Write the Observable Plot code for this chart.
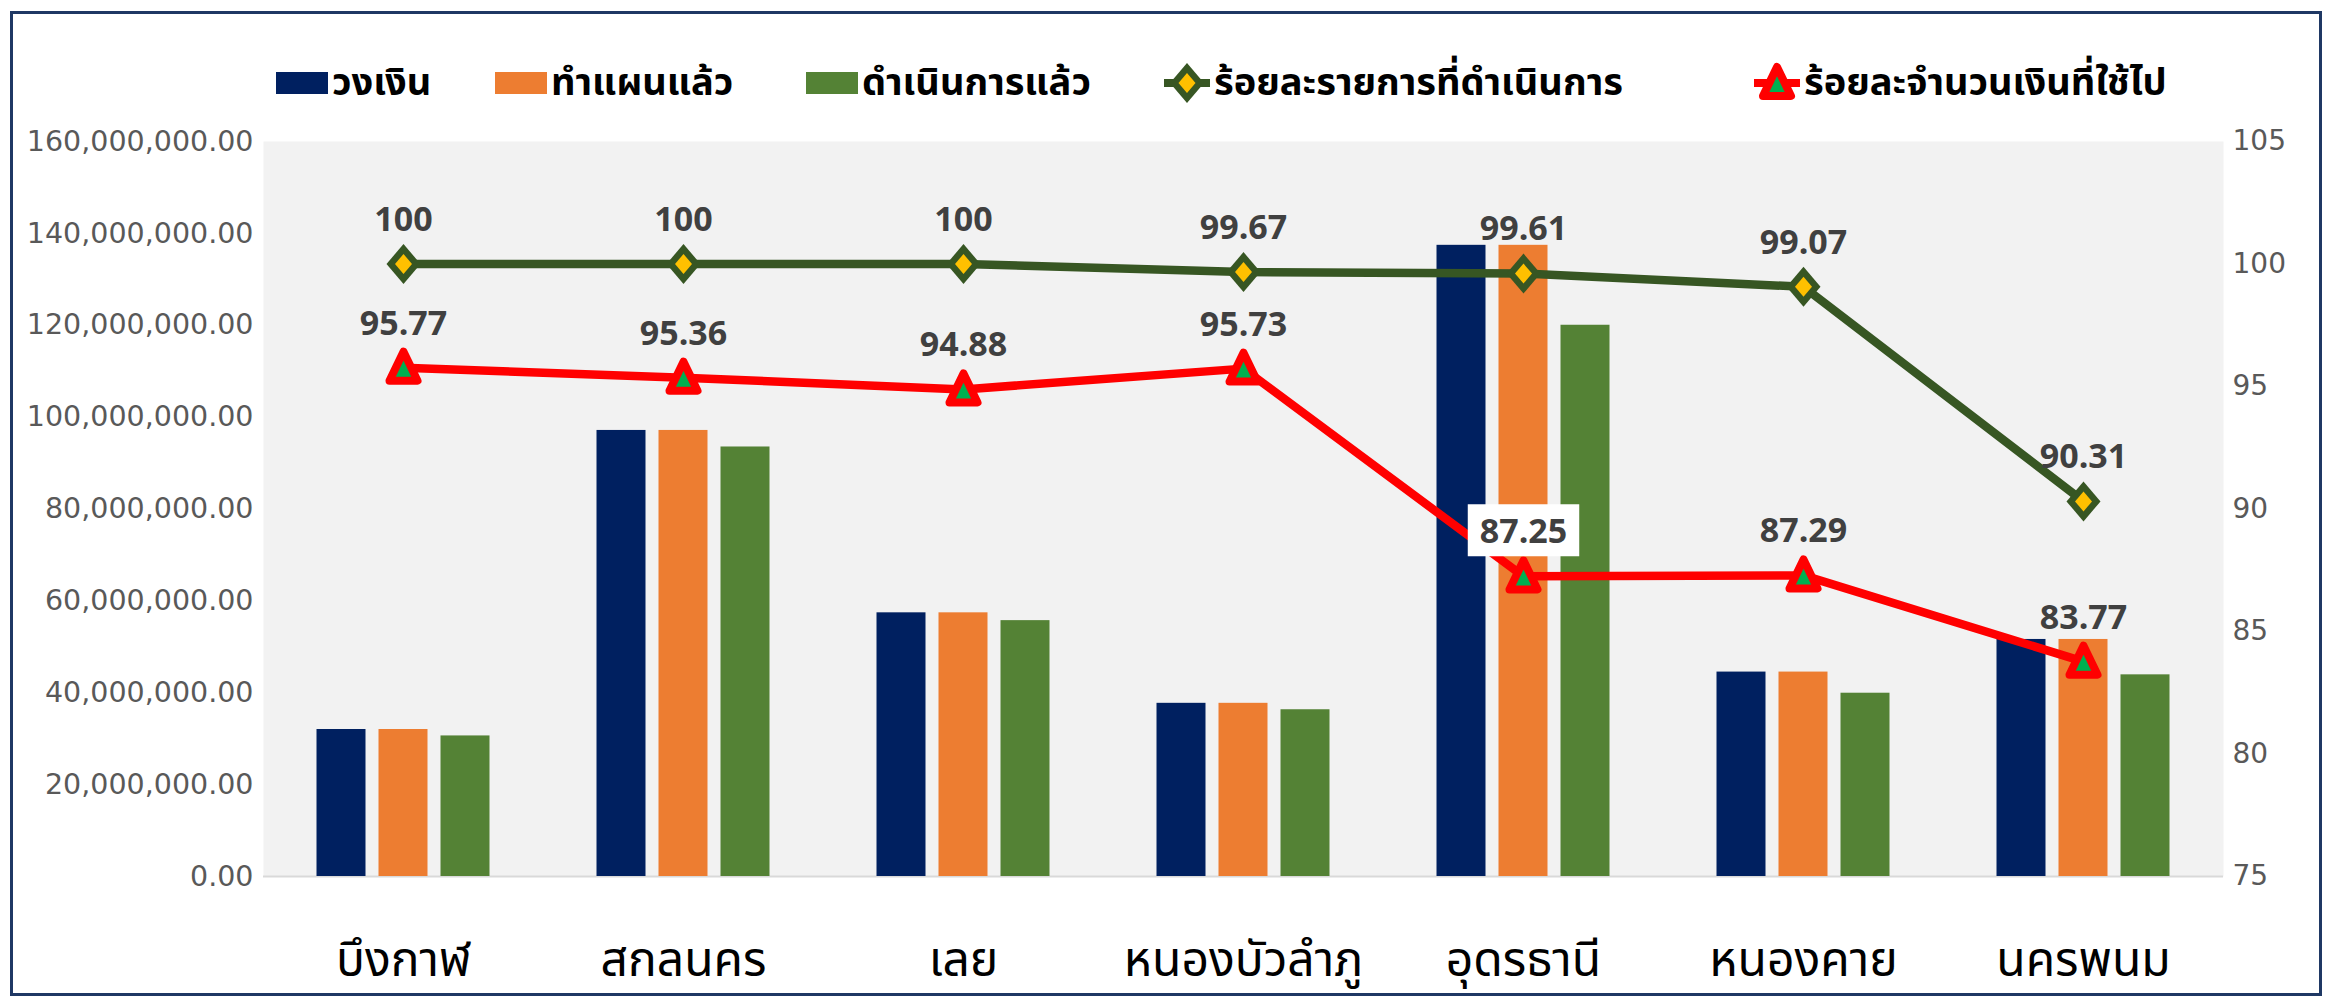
<!DOCTYPE html>
<html>
<head>
<meta charset="utf-8">
<script src="https://cdn.jsdelivr.net/npm/d3@7"></script>
<script src="https://cdn.jsdelivr.net/npm/@observablehq/plot@0.6"></script>
<style>
  html, body { margin: 0; padding: 0; background: #fff; }
  #wrap { position: relative; width: 2331px; height: 997px; overflow: hidden; }
  #frame { position: absolute; left: 10px; top: 11px; width: 2306px; height: 979px; border: 3px solid #1F3864; pointer-events: none; }
  #legend { position: relative; height: 125px; font-family: "Noto Sans Thai", "Noto Sans", sans-serif; font-weight: bold; font-size: 38px; color: #000; }
  .item { position: absolute; top: 56px; height: 54px; display: flex; align-items: center; white-space: nowrap; }
  .sw { display: inline-block; width: 52px; height: 22px; margin-right: 4px; }
  .item svg { margin-right: 4px; }
  #chart svg { display: block; }
</style>
</head>
<body>
<div id="wrap">
  <div id="legend"></div>
  <div id="chart"></div>
  <div id="frame"></div>
</div>
<script>
// ---------- data ----------
const categories = ["บึงกาฬ", "สกลนคร", "เลย", "หนองบัวลำภู", "อุดรธานี", "หนองคาย", "นครพนม"];
const budget  = [32.0e6, 97.1e6, 57.4e6, 37.7e6, 137.4e6, 44.5e6, 51.6e6];   // วงเงิน
const planned = [32.0e6, 97.1e6, 57.4e6, 37.7e6, 137.4e6, 44.5e6, 51.6e6];   // ทำแผนแล้ว
const done    = [30.6e6, 93.5e6, 55.7e6, 36.3e6, 120.0e6, 39.9e6, 43.9e6];   // ดำเนินการแล้ว
const pctItems = [100, 100, 100, 99.67, 99.61, 99.07, 90.31];               // ร้อยละรายการที่ดำเนินการ
const pctMoney = [95.77, 95.36, 94.88, 95.73, 87.25, 87.29, 83.77];         // ร้อยละจำนวนเงินที่ใช้ไป
const leftTicks  = [0, 20e6, 40e6, 60e6, 80e6, 100e6, 120e6, 140e6, 160e6];
const rightTicks = [75, 80, 85, 90, 95, 100, 105];
const seriesNames = ["วงเงิน", "ทำแผนแล้ว", "ดำเนินการแล้ว", "ร้อยละรายการที่ดำเนินการ", "ร้อยละจำนวนเงินที่ใช้ไป"];
const boxedLabelCategory = "อุดรธานี";

// ---------- colours ----------
const cNavy = "#002060", cOrange = "#ED7D31", cGreen = "#548235";
const cLineGreen = "#375623", cYellow = "#FFC000", cRed = "#FF0000", cTriFill = "#00B050";

const rows = categories.map((c, i) => ({
  cat: c, budget: budget[i], planned: planned[i], done: done[i],
  pctItems: pctItems[i], pctMoney: pctMoney[i]
}));

// secondary axis mapping (75..105 onto 0..160M)
const pToY = d3.scaleLinear([75, 105], [0, 160e6]);

// custom marker symbols
const dOuter = "M0,-20L17,0L0,20L-17,0Z", dInner = "M0,-10L8.5,0L0,10L-8.5,0Z", tri = "M0,-16L14,13L-14,13Z";
const pathSymbol = d => ({ draw(ctx) { const p = new Path2DLike(ctx); p.run(d); } });
function Path2DLike(ctx) { this.ctx = ctx; }
Path2DLike.prototype.run = function (d) {
  const cmds = d.match(/[MLZ][^MLZ]*/g);
  for (const c of cmds) {
    const t = c[0], nums = c.slice(1).split(",").filter(s => s.length).map(Number);
    if (t === "M") this.ctx.moveTo(nums[0], nums[1]);
    else if (t === "L") this.ctx.lineTo(nums[0], nums[1]);
    else this.ctx.closePath();
  }
};
const diamondOuter = pathSymbol(dOuter), diamondInner = pathSymbol(dInner), triangle = pathSymbol(tri);

// ---------- legend ----------
const legend = document.getElementById("legend");
const legendLeft = [276, 495, 806, 1164, 1754];
const legendKinds = [
  { sw: cNavy }, { sw: cOrange }, { sw: cGreen },
  { line: cLineGreen, marker: "diamond" }, { line: cRed, marker: "triangle" }
];
legendKinds.forEach((k, i) => {
  const it = document.createElement("div");
  it.className = "item";
  it.style.left = legendLeft[i] + "px";
  if (k.sw) {
    const s = document.createElement("span");
    s.className = "sw"; s.style.background = k.sw;
    it.appendChild(s);
  } else {
    const ns = "http://www.w3.org/2000/svg";
    const svg = document.createElementNS(ns, "svg");
    svg.setAttribute("width", 46); svg.setAttribute("height", 46);
    svg.setAttribute("viewBox", "-23 -23 46 46");
    const ln = document.createElementNS(ns, "line");
    ln.setAttribute("x1", -23); ln.setAttribute("x2", 23); ln.setAttribute("y1", 0); ln.setAttribute("y2", 0);
    ln.setAttribute("stroke", k.line); ln.setAttribute("stroke-width", 8);
    svg.appendChild(ln);
    if (k.marker === "diamond") {
      const p1 = document.createElementNS(ns, "path");
      p1.setAttribute("d", dOuter); p1.setAttribute("fill", cLineGreen);
      const p2 = document.createElementNS(ns, "path");
      p2.setAttribute("d", dInner); p2.setAttribute("fill", cYellow);
      svg.appendChild(p1); svg.appendChild(p2);
    } else {
      const p = document.createElementNS(ns, "path");
      p.setAttribute("d", tri);
      p.setAttribute("fill", cTriFill); p.setAttribute("stroke", cRed);
      p.setAttribute("stroke-width", 8); p.setAttribute("stroke-linejoin", "round");
      svg.appendChild(p);
    }
    it.appendChild(svg);
  }
  const t = document.createElement("span");
  t.textContent = seriesNames[i];
  it.appendChild(t);
  legend.appendChild(it);
});

// ---------- chart ----------
const labelFont = "'Open Sans', 'Liberation Sans', sans-serif";
const chart = Plot.plot({
  width: 2331,
  height: 872,
  marginLeft: 263,
  marginRight: 108,
  marginTop: 16,
  marginBottom: 121,
  style: { background: "transparent", fontFamily: "'DejaVu Sans', sans-serif", overflow: "visible" },
  x: { domain: categories, padding: 0, label: null },
  y: { domain: [0, 160e6], label: null },
  marks: [
    Plot.frame({ fill: "#F2F2F2", stroke: null }),
    Plot.ruleY([0], { stroke: "#D9D9D9", strokeWidth: 2 }),
    Plot.axisY(leftTicks, { tickSize: 0, tickPadding: 10, tickFormat: d3.format(",.2f"), fontSize: 28.5, fill: "#595959", label: null }),
    Plot.axisY(rightTicks.map(pToY), { anchor: "right", tickSize: 0, tickPadding: 9, tickFormat: v => String(Math.round(pToY.invert(v))), fontSize: 28, fill: "#595959", label: null }),
    Plot.axisX({ tickSize: 0, tickPadding: 65, fontSize: 48, fill: "#000", fontFamily: "'Noto Sans Thai', 'Noto Sans', sans-serif", label: null }),
    Plot.barY(rows, { x: "cat", y: "budget", fill: cNavy, insetLeft: 115.5, insetRight: 115.5, dx: -62 }),
    Plot.barY(rows, { x: "cat", y: "planned", fill: cOrange, insetLeft: 115.5, insetRight: 115.5 }),
    Plot.barY(rows, { x: "cat", y: "done", fill: cGreen, insetLeft: 115.5, insetRight: 115.5, dx: 62 }),
    Plot.lineY(rows, { x: "cat", y: d => pToY(d.pctItems), stroke: cLineGreen, strokeWidth: 8.5 }),
    Plot.lineY(rows, { x: "cat", y: d => pToY(d.pctMoney), stroke: cRed, strokeWidth: 8.5 }),
    Plot.dot(rows, { x: "cat", y: d => pToY(d.pctItems), symbol: diamondOuter, fill: cLineGreen }),
    Plot.dot(rows, { x: "cat", y: d => pToY(d.pctItems), symbol: diamondInner, fill: cYellow }),
    Plot.dot(rows, { x: "cat", y: d => pToY(d.pctMoney), symbol: triangle, fill: cTriFill, stroke: cRed, strokeWidth: 8, strokeLinejoin: "round" }),
    Plot.text(rows, { x: "cat", y: d => pToY(d.pctItems), text: d => String(d.pctItems), dy: -44, fontSize: 34, fontWeight: "bold", fill: "#404040", fontFamily: labelFont }),
    Plot.text(rows, { x: "cat", y: d => pToY(d.pctMoney), text: d => String(d.pctMoney), dy: -44, fontSize: 34, fontWeight: "bold", fill: "#404040", fontFamily: labelFont, className: "pm-label" })
  ]
});
document.getElementById("chart").appendChild(chart);

// white box behind the อุดรธานี money-percentage label (sized from the text's own bbox)
const boxedIdx = categories.indexOf(boxedLabelCategory);
const pmTexts = chart.querySelectorAll("g.pm-label text");
const t = pmTexts[boxedIdx];
if (t) {
  const bb = t.getBBox();
  const r = document.createElementNS("http://www.w3.org/2000/svg", "rect");
  r.setAttribute("x", bb.x - 12);
  r.setAttribute("y", bb.y - 3);
  r.setAttribute("width", bb.width + 24);
  r.setAttribute("height", bb.height + 6);
  r.setAttribute("fill", "#fff");
  if (t.getAttribute("transform")) r.setAttribute("transform", t.getAttribute("transform"));
  t.parentNode.insertBefore(r, t);
}
</script>
</body>
</html>
